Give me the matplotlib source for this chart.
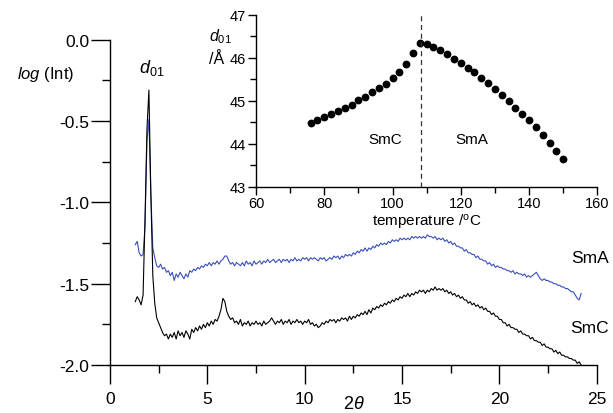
"""Small-angle X-ray pattern of SmA and SmC phases,
with the d01 layer spacing versus temperature as an inset
"""

import numpy as np
import matplotlib
matplotlib.use('Agg')
import matplotlib.pyplot as plt
from matplotlib.ticker import MultipleLocator

plt.rcParams['font.family'] = ['Liberation Sans', 'DejaVu Sans']
plt.rcParams['mathtext.fontset'] = 'custom'
plt.rcParams['mathtext.rm'] = 'Liberation Sans'
plt.rcParams['mathtext.it'] = 'Liberation Sans:italic'

# 2theta sampling of the diffractograms (deg)
two_theta = np.round(np.arange(1.3, 24.25, 0.1), 2)

# log(Int), SmC phase (black)
log_smc = [
    -1.61, -1.58, -1.60, -1.63, -1.57, -1.10, -0.55,
    -0.31, -0.95, -1.45, -1.62, -1.71, -1.74, -1.77, -1.80, -1.82, -1.81,
    -1.84, -1.81, -1.83, -1.80, -1.84, -1.79, -1.82, -1.80, -1.83, -1.79,
    -1.81, -1.84, -1.78, -1.80, -1.77, -1.79, -1.76, -1.78, -1.75, -1.77,
    -1.74, -1.76, -1.73, -1.75, -1.72, -1.73, -1.70, -1.66, -1.59, -1.61,
    -1.67, -1.70, -1.72, -1.71, -1.74, -1.73, -1.75, -1.72, -1.76, -1.74,
    -1.75, -1.73, -1.76, -1.74, -1.75, -1.73, -1.75, -1.74, -1.76, -1.73,
    -1.75, -1.74, -1.73, -1.71, -1.73, -1.75, -1.73, -1.74, -1.72, -1.75,
    -1.73, -1.74, -1.72, -1.75, -1.73, -1.74, -1.72, -1.74, -1.73, -1.75,
    -1.73, -1.74, -1.72, -1.75, -1.74, -1.76, -1.75, -1.77, -1.76, -1.74,
    -1.75, -1.73, -1.74, -1.72, -1.73, -1.72, -1.74, -1.72, -1.73, -1.71,
    -1.72, -1.71, -1.73, -1.70, -1.72, -1.70, -1.71, -1.69, -1.70, -1.68,
    -1.69, -1.67, -1.69, -1.66, -1.68, -1.65, -1.66, -1.64, -1.65, -1.63,
    -1.64, -1.62, -1.63, -1.61, -1.62, -1.60, -1.61, -1.59, -1.60, -1.58,
    -1.59, -1.57, -1.58, -1.56, -1.58, -1.56, -1.57, -1.55, -1.56, -1.54,
    -1.55, -1.54, -1.56, -1.54, -1.55, -1.53, -1.54, -1.52, -1.54, -1.53,
    -1.54, -1.53, -1.55, -1.54, -1.56, -1.55, -1.57, -1.56, -1.58, -1.57,
    -1.59, -1.58, -1.60, -1.60, -1.62, -1.61, -1.63, -1.62, -1.64, -1.63,
    -1.65, -1.64, -1.66, -1.65, -1.67, -1.67, -1.69, -1.68, -1.70, -1.70,
    -1.72, -1.72, -1.74, -1.74, -1.76, -1.75, -1.77, -1.77, -1.78, -1.78,
    -1.80, -1.79, -1.81, -1.81, -1.82, -1.82, -1.84, -1.83, -1.85, -1.85,
    -1.86, -1.86, -1.88, -1.87, -1.89, -1.89, -1.90, -1.90, -1.92, -1.91,
    -1.93, -1.92, -1.94, -1.94, -1.95, -1.95, -1.96, -1.96, -1.97, -1.97,
    -1.99, -1.98, -2.00,
]

# log(Int), SmA phase (blue)
log_sma = [
    -1.26, -1.24, -1.31, -1.33, -1.32, -1.15, -0.62,
    -0.49, -0.95, -1.28, -1.34, -1.39, -1.40, -1.38, -1.41, -1.40, -1.43,
    -1.42, -1.45, -1.43, -1.48, -1.44, -1.46, -1.43, -1.45, -1.47, -1.44,
    -1.46, -1.42, -1.43, -1.41, -1.42, -1.40, -1.41, -1.39, -1.40, -1.38,
    -1.39, -1.37, -1.39, -1.37, -1.38, -1.36, -1.38, -1.36, -1.35, -1.33,
    -1.33, -1.36, -1.38, -1.37, -1.39, -1.37, -1.38, -1.39, -1.37, -1.39,
    -1.36, -1.38, -1.37, -1.39, -1.36, -1.38, -1.37, -1.36, -1.38, -1.36,
    -1.37, -1.35, -1.37, -1.36, -1.35, -1.37, -1.36, -1.35, -1.37, -1.35,
    -1.36, -1.35, -1.37, -1.35, -1.36, -1.34, -1.36, -1.35, -1.36, -1.34,
    -1.35, -1.34, -1.36, -1.34, -1.35, -1.34, -1.35, -1.36, -1.34, -1.35,
    -1.34, -1.36, -1.35, -1.34, -1.35, -1.33, -1.34, -1.33, -1.35, -1.33,
    -1.34, -1.32, -1.33, -1.32, -1.33, -1.31, -1.32, -1.30, -1.31, -1.29,
    -1.30, -1.28, -1.30, -1.28, -1.29, -1.27, -1.28, -1.26, -1.27, -1.25,
    -1.26, -1.25, -1.26, -1.24, -1.25, -1.23, -1.24, -1.23, -1.24, -1.22,
    -1.23, -1.22, -1.23, -1.22, -1.23, -1.21, -1.22, -1.21, -1.22, -1.21,
    -1.22, -1.21, -1.22, -1.20, -1.21, -1.21, -1.22, -1.21, -1.23, -1.22,
    -1.23, -1.22, -1.24, -1.23, -1.25, -1.24, -1.26, -1.25, -1.27, -1.27,
    -1.28, -1.28, -1.30, -1.29, -1.31, -1.31, -1.32, -1.32, -1.34, -1.33,
    -1.35, -1.35, -1.36, -1.36, -1.38, -1.37, -1.39, -1.38, -1.40, -1.39,
    -1.40, -1.40, -1.41, -1.41, -1.42, -1.42, -1.43, -1.42, -1.44, -1.43,
    -1.44, -1.44, -1.45, -1.44, -1.46, -1.45, -1.46, -1.45, -1.44, -1.43,
    -1.45, -1.47, -1.48, -1.47, -1.48, -1.48, -1.49, -1.49, -1.50, -1.50,
    -1.51, -1.51, -1.52, -1.52, -1.53, -1.53, -1.54, -1.55, -1.55, -1.57,
    -1.59, -1.60, -1.56,
]

# inset: layer spacing d01 (Angstrom) vs temperature (deg C)
temp = [76, 78, 80, 82, 84, 86, 88, 90, 92, 94, 96, 98, 100, 102, 104, 106, 108,
        110, 112, 114, 116, 118, 120, 122, 124, 126, 128, 130, 132, 134, 136, 138,
        140, 142, 144, 146, 148, 150]
d01 = [44.48, 44.56, 44.62, 44.68, 44.76, 44.83, 44.91, 45.01, 45.09, 45.20,
       45.29, 45.39, 45.52, 45.66, 45.85, 46.12, 46.34,
       46.32, 46.26, 46.17, 46.09, 45.97, 45.88, 45.77, 45.66, 45.52, 45.41,
       45.28, 45.14, 45.00, 44.84, 44.70, 44.56, 44.38, 44.21, 44.02, 43.84, 43.64]
t_transition = 108.3

fig = plt.figure(figsize=(6.13, 4.14), dpi=100)

# основной график
ax = fig.add_axes([0.1794, 0.1159, 0.7940, 0.7858])
ax.plot(two_theta, log_sma, color='#3a4fb8', linewidth=0.8)
ax.plot(two_theta, log_smc, color='black', linewidth=0.8)
ax.set_xlim(0, 25)
ax.set_ylim(-2.0, 0.0)
ax.spines['top'].set_visible(False)
ax.spines['right'].set_visible(False)
for s in ('left', 'bottom'):
    ax.spines[s].set_linewidth(1.0)
ax.xaxis.set_major_locator(MultipleLocator(5))
ax.xaxis.set_minor_locator(MultipleLocator(2.5))
ax.yaxis.set_major_locator(MultipleLocator(0.5))
ax.yaxis.set_minor_locator(MultipleLocator(0.25))
ax.yaxis.set_major_formatter(plt.FormatStrFormatter('%.1f'))
ax.tick_params(which='major', length=14, width=1.0, labelsize=12.5, pad=1)
ax.tick_params(which='minor', length=6, width=1.0)
ax.tick_params(axis='x', which='major', pad=5)

fig.text(46 / 613, 1 - 74 / 414, r'$\mathit{log}$ (Int)', fontsize=12,
         ha='center', va='center')
fig.text(152 / 613, 1 - 68 / 414, r'$d_{\mathregular{01}}$', fontsize=13,
         ha='center', va='center')
ax.text(24.65, -1.336, 'SmA', fontsize=12.5, ha='center', va='center', clip_on=False)
ax.text(24.65, -1.767, 'SmC', fontsize=12.5, ha='center', va='center', clip_on=False)
fig.text(354 / 613, 1 / 414, r'$2\theta$', fontsize=13, ha='center', va='bottom')

# вставка
ins = fig.add_axes([0.4176, 0.5466, 0.5568, 0.4155])
ins.patch.set_alpha(0)
ins.plot(temp, d01, 'o', color='black', markersize=4.6)
ins.axvline(t_transition, color='#333333', linestyle=(0, (4, 3)), linewidth=0.9)
ins.set_xlim(60, 160)
ins.set_ylim(43, 47)
ins.spines['top'].set_visible(False)
ins.spines['right'].set_visible(False)
for s in ('left', 'bottom'):
    ins.spines[s].set_linewidth(1.0)
ins.xaxis.set_major_locator(MultipleLocator(20))
ins.xaxis.set_minor_locator(MultipleLocator(10))
ins.yaxis.set_major_locator(MultipleLocator(1))
ins.yaxis.set_minor_locator(MultipleLocator(0.5))
ins.tick_params(which='major', length=6, width=1.0, labelsize=10.5, pad=1)
ins.tick_params(which='minor', length=4, width=1.0)
ins.set_xlabel(r'temperature /$^{\mathregular{o}}$C', fontsize=11, labelpad=1)
ins.text(97.8, 44.1, 'SmC', fontsize=11, ha='center', va='center')
ins.text(123.2, 44.1, 'SmA', fontsize=11, ha='center', va='center')
fig.text(220 / 613, 1 - 37 / 414, r'$d_{\mathregular{01}}$', fontsize=11.5,
         ha='center', va='center')
fig.text(217 / 613, 1 - 60 / 414, '/Å', fontsize=11.5, ha='center', va='center')

fig.savefig('out.png', dpi=100)
